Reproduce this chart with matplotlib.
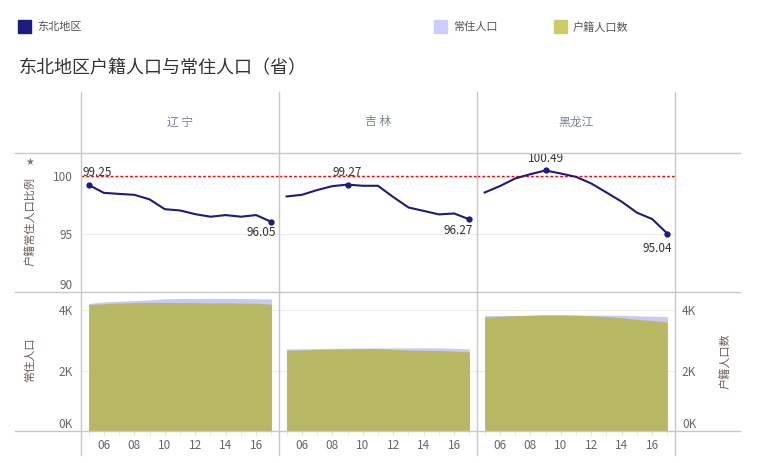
import numpy as np
import matplotlib
matplotlib.use("Agg")
import matplotlib.pyplot as plt
from matplotlib.lines import Line2D
from matplotlib.patches import Rectangle

plt.rcParams['font.family'] = ['Noto Sans CJK SC', 'DejaVu Sans']

years = list(range(2005, 2018))
provinces = ["辽 宁", "吉 林", "黑龙江"]

# 户籍/常住 ratio (%)
ratio_ln = [99.25, 98.56, 98.47, 98.39, 98.00, 97.15, 97.04, 96.72, 96.50, 96.64, 96.50, 96.64, 96.05]
ratio_jl = [98.25, 98.39, 98.80, 99.14, 99.27, 99.17, 99.17, 98.20, 97.30, 97.00, 96.70, 96.78, 96.27]
ratio_hlj = [98.59, 99.14, 99.80, 100.17, 100.49, 100.23, 99.94, 99.37, 98.59, 97.80, 96.85, 96.30, 95.04]

# 常住人口 (万人)
res_ln = [4221, 4271, 4298, 4315, 4341, 4375, 4383, 4389, 4390, 4391, 4382, 4378, 4369]
res_jl = [2716, 2723, 2730, 2734, 2740, 2747, 2749, 2750, 2751, 2752, 2753, 2733, 2717]
res_hlj = [3820, 3823, 3824, 3825, 3826, 3833, 3834, 3834, 3835, 3833, 3812, 3799, 3789]

# 户籍人口数 (万人)
reg_ln = [4189, 4210, 4232, 4246, 4254, 4250, 4253, 4245, 4236, 4243, 4229, 4231, 4196]
reg_jl = [2668, 2679, 2697, 2710, 2720, 2724, 2726, 2701, 2677, 2669, 2662, 2645, 2616]
reg_hlj = [3766, 3790, 3816, 3832, 3845, 3842, 3832, 3810, 3781, 3749, 3692, 3658, 3601]

ratios = [ratio_ln, ratio_jl, ratio_hlj]
residents = [res_ln, res_jl, res_hlj]
registered = [reg_ln, reg_jl, reg_hlj]

NAVY = "#1b1b80"
LAV = "#c9c9f6"
OLIVE = "#b7b764"
GRID = "#c8c8c8"
TXT = "#666666"

W, H = 761, 463
fig = plt.figure(figsize=(W / 100, H / 100), dpi=100)


def box(x0, y0, x1, y1):
    return [x0 / W, 1 - y1 / H, (x1 - x0) / W, (y1 - y0) / H]


def fx(x):
    return x / W


def fy(y):
    return 1 - y / H


cols = [81, 279, 477, 675]

# frame lines
for x in cols:
    fig.add_artist(Line2D([fx(x), fx(x)], [fy(92), fy(455)], color=GRID, lw=1))
for y in [153, 292, 431]:
    fig.add_artist(Line2D([fx(15), fx(740)], [fy(y), fy(y)], color=GRID, lw=1))

# label positions (offset pixels) for first / max / last
label_offsets = [
    [(0, (9, 12)), (12, (-10, -11))],
    [(4, (0, 12)), (12, (-11, -11))],
    [(4, (0, 12)), (12, (-10, -15))],
]

for i in range(3):
    x0, x1 = cols[i], cols[i + 1]
    # header
    fig.text(fx((x0 + x1) / 2), fy(122), provinces[i], ha='center', va='center',
             fontsize=8.5, color="#7a8494")

    # ratio line
    ax = fig.add_axes(box(x0, 153, x1, 292))
    ax.set_xlim(2004.5, 2017.5)
    ax.set_ylim(90, 102)
    ax.axhline(95, color="#ececec", lw=0.8, zorder=0)
    ax.axhline(100, color="red", lw=1, ls=(0, (2, 1.5)), zorder=1)
    ax.plot(years, ratios[i], color=NAVY, lw=1.5, zorder=3)
    for idx, off in label_offsets[i]:
        ax.plot(years[idx], ratios[i][idx], 'o', color=NAVY, ms=3.5, zorder=4)
        ax.annotate(f"{ratios[i][idx]:.2f}", (years[idx], ratios[i][idx]),
                    xytext=off, textcoords='offset pixels', ha='center', va='center',
                    fontsize=8.5, color="#333333", zorder=5)
    ax.set_xticks([])
    ax.set_yticks([90, 95, 100])
    for s in ax.spines.values():
        s.set_visible(False)
    if i == 0:
        ax.tick_params(axis='y', length=0, pad=6, labelsize=8.5, labelcolor=TXT)
        ax.get_yticklabels()[0].set_va('bottom')
    else:
        ax.tick_params(axis='y', length=0, labelleft=False)

    # population areas
    ax2 = fig.add_axes(box(x0, 292, x1, 431))
    ax2.set_xlim(2004.5, 2017.5)
    ax2.set_ylim(0, 4600)
    for g in [2000, 4000]:
        ax2.axhline(g, color="#ececec", lw=0.8, zorder=0)
    ax2.fill_between(years, residents[i], color=LAV, lw=0, zorder=1)
    ax2.fill_between(years, registered[i], color=OLIVE, lw=0, zorder=2)
    for s in ax2.spines.values():
        s.set_visible(False)
    ax2.set_xticks(range(2006, 2017, 2))
    ax2.set_xticklabels([f"{y % 100:02d}" for y in range(2006, 2017, 2)])
    ax2.set_xticks(years, minor=True)
    ax2.tick_params(axis='x', which='both', length=3, color="#e2e2e2", pad=3,
                    labelsize=8.5, labelcolor=TXT)
    ax2.set_yticks([0, 2000, 4000])
    ax2.set_yticklabels(["0K", "2K", "4K"])
    if i == 0:
        ax2.tick_params(axis='y', length=0, pad=6, labelsize=8.5, labelcolor=TXT)
        ax2.get_yticklabels()[0].set_va('bottom')
    elif i == 2:
        ax2.yaxis.tick_right()
        ax2.tick_params(axis='y', length=0, pad=5, labelsize=8.5, labelcolor=TXT,
                        labelright=True, labelleft=False)
        ax2.get_yticklabels()[0].set_va('bottom')
    else:
        ax2.tick_params(axis='y', length=0, labelleft=False)

# axis titles
fig.text(fx(30), fy(221), "户籍常住人口比例", rotation=90, ha='center', va='center',
         fontsize=8, color="#6b5a55")
fig.text(fx(30), fy(360), "常住人口", rotation=90, ha='center', va='center',
         fontsize=8, color="#6b5a55")
fig.text(fx(725), fy(361), "户籍人口数", rotation=90, ha='center', va='center',
         fontsize=8, color="#6b5a55")

# pin icon
fig.text(fx(30), fy(162), "\u2605", ha='center', va='center', fontsize=7, color="#777777",
         family=['DejaVu Sans'])

# title
fig.text(fx(19), fy(68), "东北地区户籍人口与常住人口（省）", ha='left', va='center',
         fontsize=13, color="#333333")

# legends
legend_items = [(18, NAVY, "东北地区"), (434, "#ccccff", "常住人口"), (554, "#cccc66", "户籍人口数")]
for x, c, t in legend_items:
    fig.add_artist(Rectangle((fx(x), fy(33)), 13 / W, 13 / H, color=c, transform=fig.transFigure))
    fig.text(fx(x + 19), fy(27), t, ha='left', va='center', fontsize=8, color="#555555")

fig.savefig("out.png", dpi=100)
